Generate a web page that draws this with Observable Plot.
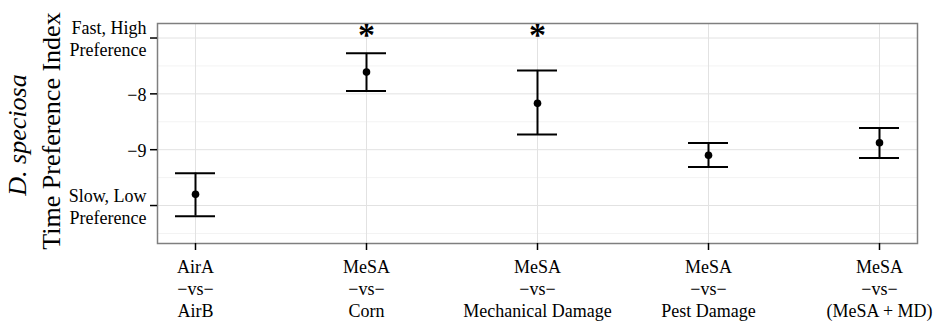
<!DOCTYPE html>
<html><head><meta charset="utf-8">
<script src="https://cdn.jsdelivr.net/npm/d3@7"></script>
<script src="https://cdn.jsdelivr.net/npm/@observablehq/plot@0.6"></script>
<style>body{margin:0;background:#fff}</style>
</head><body><div id="chart"></div>
<script>
const categories = ["AirA\n−vs−\nAirB", "MeSA\n−vs−\nCorn", "MeSA\n−vs−\nMechanical Damage", "MeSA\n−vs−\nPest Damage", "MeSA\n−vs−\n(MeSA + MD)"];
const means = [-9.80, -7.61, -8.17, -9.10, -8.875];
const lower = [-10.19, -7.95, -8.73, -9.31, -9.15];
const upper = [-9.42, -7.275, -7.58, -8.88, -8.61];
const significance = ["", "*", "*", "", ""];
const yTicks = [-7, -8, -9, -10];
const yTickLabels = ["Fast, High\nPreference", "−8", "−9", "Slow, Low\nPreference"];
const minorTicks = [-7.5, -8.5, -9.5, -10.5];
const starY = -6.95;

const data = categories.map((c, i) => ({cat: c, mean: means[i], lo: lower[i], hi: upper[i], sig: significance[i]}));

const plot = Plot.plot({
  width: 935, height: 322,
  marginLeft: 157, marginRight: 18, marginTop: 23, marginBottom: 79,
  style: {fontFamily: "'Liberation Serif', 'Times New Roman', serif", fontSize: "18px", color: "black", background: "white"},
  x: {type: "band", domain: categories, paddingInner: 0.766, paddingOuter: 0.1035, align: 0.5},
  y: {domain: [-10.68, -6.74]},
  marks: [
    Plot.ruleY(minorTicks, {stroke: "#f3f3f3", strokeWidth: 1}),
    Plot.ruleY(yTicks, {stroke: "#e2e2e2", strokeWidth: 1}),
    Plot.ruleX(categories, {x: d => d, stroke: "#e2e2e2", strokeWidth: 1}),
    Plot.frame({stroke: "#7f7f7f", strokeWidth: 1.5}),
    Plot.axisX({tickSize: 7, tickPadding: 7, fontSize: 18, lineHeight: 1.22, label: null, strokeWidth: 1.5}),
    Plot.axisY({ticks: yTicks, tickFormat: d => yTickLabels[yTicks.indexOf(d)], tickSize: 7, tickPadding: 4, fontSize: 18, lineHeight: 1.22, label: null, strokeWidth: 1.5}),
    Plot.ruleX(data, {x: "cat", y1: "lo", y2: "hi", stroke: "black", strokeWidth: 2}),
    Plot.tickY(data, {x: "cat", y: "lo", stroke: "black", strokeWidth: 2}),
    Plot.tickY(data, {x: "cat", y: "hi", stroke: "black", strokeWidth: 2}),
    Plot.dot(data, {x: "cat", y: "mean", r: 3.8, fill: "black", stroke: "none"}),
    Plot.text(data.filter(d => d.sig), {x: "cat", y: () => starY, text: "sig", fontSize: 34, fontWeight: "bold"})
  ]
});

const svg = d3.select(plot);
svg.append("text")
  .attr("transform", "translate(60,131) rotate(-90)")
  .attr("text-anchor", "middle")
  .attr("font-size", 26)
  .attr("fill", "black")
  .text("Time Preference Index");
svg.append("text")
  .attr("transform", "translate(26,135) rotate(-90)")
  .attr("text-anchor", "middle")
  .attr("font-size", 26)
  .attr("font-style", "italic")
  .attr("fill", "black")
  .text("D. speciosa");

document.getElementById("chart").appendChild(plot);
</script>
</body></html>
